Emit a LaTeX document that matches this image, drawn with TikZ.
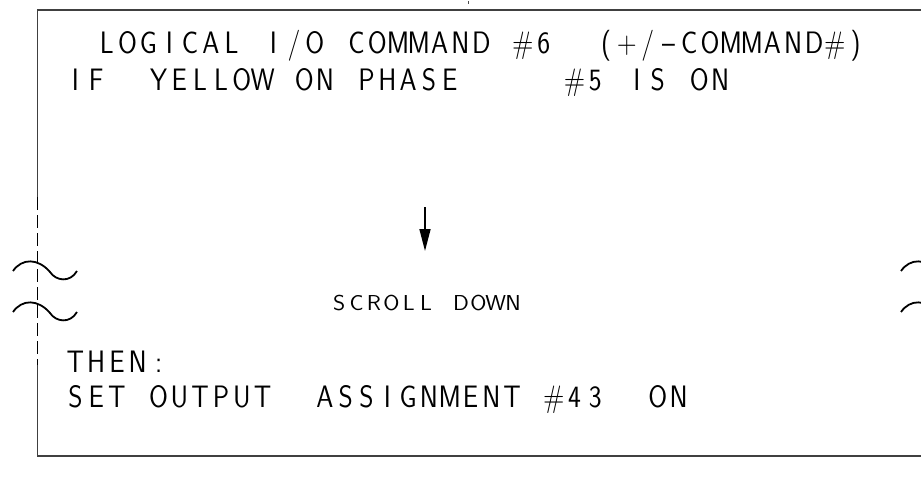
\documentclass[tikz,border=0pt]{standalone}
\usepackage{fontspec}
\usetikzlibrary{arrows.meta}
\newfontfamily\cadf[FakeStretch=0.88]{Latin Modern Sans}
\newfontfamily\cads[FakeStretch=1.08]{Latin Modern Sans}
\newlength\cadpitch
\makeatletter
\newcommand\cadtext[1]{\@tfor\cadch:=#1\do{\makebox[\cadpitch][c]{\cadch}}}
\makeatother
\tikzset{
  txt/.style={anchor=base west, inner sep=0pt, outer sep=0pt,
    font={\cadf\fontsize{31}{31}\selectfont\setlength\cadpitch{20.8pt}}},
  smalltxt/.style={anchor=base west, inner sep=0pt, outer sep=0pt,
    font={\cads\fontsize{21.6}{21.6}\selectfont\setlength\cadpitch{17.4pt}}},
  boxline/.style={draw=black!75, line width=1.6pt},
  dashline/.style={draw=black, line width=1.8pt, dash pattern=on 13pt off 5pt},
  wave/.style={draw=black, line width=1.8pt},
  arr/.style={draw=black, line width=1.6pt, -{Triangle[length=22pt,width=11pt]}}
}
\begin{document}
\begin{tikzpicture}[x=1pt,y=-1pt]
\useasboundingbox (0,0) rectangle (921,493);
\clip (0,0) rectangle (921,493);
% frame
\draw[boxline] (921,10) -- (37.5,10) -- (37.5,197);
\draw[dashline] (37.5,197) -- (37.5,365);
\draw[boxline] (37.5,365) -- (37.5,456) -- (921,456);
\draw[draw=black!70, line width=1pt] (468,1) -- (468,4);
% break waves
\foreach \dx/\dy in {0/0, 0/41, 888/0, 888/41}{
  \draw[wave, shift={(\dx,\dy)}] (13,271) .. controls (22,258) and (38,258) .. (50,272)
        .. controls (56,281) and (70,283) .. (77,271);
}
% line 1 (cell pitch 20.8)
\node[txt] (l1a) at (96.5,53) {\cadtext{LOGICAL}};
\node[txt] (l1b) at (262.9,53) {\cadtext{I/O}};
\node[txt] (l1c) at (346.1,53) {\cadtext{COMMAND}};
\node[txt] (l1d) at (512.5,53) {\cadtext{\#6}};
\node[txt] (l1e) at (595.7,53) {\cadtext{(+/–COMMAND\#)}};
% line 2
\node[txt] (l2a) at (65,90) {\cadtext{IF}};
\node[txt] (l2b) at (148.2,90) {\cadtext{YELLOW}};
\node[txt] (l2c) at (293.8,90) {\cadtext{ON}};
\node[txt] (l2d) at (356.2,90) {\cadtext{PHASE}};
\node[txt] (l2e) at (564.2,90) {\cadtext{\#5}};
\node[txt] (l2f) at (626.6,90) {\cadtext{IS}};
\node[txt] (l2g) at (689,90) {\cadtext{ON}};
% arrow
\coordinate (as) at (425,207);
\coordinate (ae) at (425,251);
\draw[arr] (as) -- (ae);
\node[smalltxt] (sd) at (330.5,310) {\cadtext{SCROLL}\hspace{17.4pt}\cadtext{DOWN}};
% then
\node[txt] (t1) at (65,372) {\cadtext{THEN:}};
\node[txt] (t2a) at (65,407) {\cadtext{SET}};
\node[txt] (t2b) at (148.2,407) {\cadtext{OUTPUT}};
\node[txt] (t2c) at (314.6,407) {\cadtext{ASSIGNMENT}};
\node[txt] (t2d) at (543.4,407) {\cadtext{\#43}};
\node[txt] (t2e) at (647.4,407) {\cadtext{ON}};
\end{tikzpicture}
\end{document}
